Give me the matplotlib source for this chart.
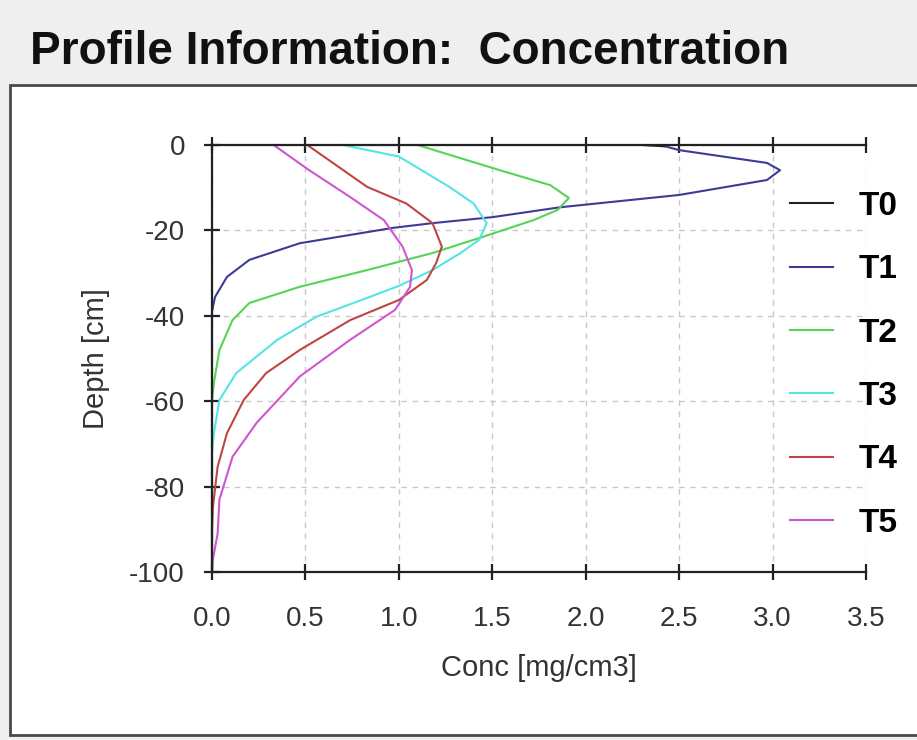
import matplotlib
matplotlib.use('Agg')
import matplotlib.pyplot as plt
from matplotlib.patches import Rectangle
from matplotlib.lines import Line2D

# profile data: concentration [mg/cm3] vs depth [cm]
labels = ['T0', 'T1', 'T2', 'T3', 'T4', 'T5']
colors = ['#202020', '#3c3c98', '#55d455', '#55e4e4', '#c04545', '#d055d0']

t0_depth = [0, -0.3]
t0_conc = [2.3, 2.42]

t1_depth = [0, -1.2, -4.2, -5.9, -8.2, -11.7, -13.6, -14.6, -16.9, -18.3, -19.4,
            -23, -26.9, -30.9, -35.6, -39, -100]
t1_conc = [2.4, 2.5, 2.97, 3.04, 2.97, 2.5, 2.08, 1.86, 1.5, 1.18, 0.97,
           0.47, 0.2, 0.08, 0.016, 0.0, 0.0]

t2_depth = [0, -5.9, -9.4, -12.4, -15.2, -17.6, -21.5, -25.3, -29.3, -33.2, -37,
            -41, -48, -55.7, -60, -100]
t2_conc = [1.1, 1.54, 1.81, 1.91, 1.85, 1.72, 1.45, 1.18, 0.83, 0.47, 0.2,
           0.11, 0.04, 0.01, 0.0, 0.0]

t3_depth = [0, -2.7, -9.8, -13.7, -18.3, -22.2, -25.3, -29.3, -33, -36.3, -40.2,
            -45.6, -53.4, -59.7, -67.5, -72, -100]
t3_conc = [0.7, 1.0, 1.27, 1.4, 1.47, 1.43, 1.33, 1.18, 1.0, 0.8, 0.56,
           0.35, 0.13, 0.04, 0.01, 0.0, 0.0]

t4_depth = [0, -9.8, -13.7, -18.3, -23.8, -27.6, -31.6, -36.3, -41, -48, -53.4,
            -59.7, -67.5, -75.4, -84.8, -90, -100]
t4_conc = [0.51, 0.83, 1.04, 1.18, 1.23, 1.2, 1.15, 1.0, 0.74, 0.47, 0.29,
           0.17, 0.08, 0.03, 0.005, 0.0, 0.0]

t5_depth = [0, -5.9, -12.2, -17.6, -23.8, -29.3, -33.2, -38.6, -45.6, -54.2, -65,
            -73, -83, -91, -97, -100]
t5_conc = [0.33, 0.52, 0.74, 0.92, 1.02, 1.07, 1.06, 0.98, 0.74, 0.47, 0.24,
           0.11, 0.04, 0.03, 0.005, 0.0]

depths = [t0_depth, t1_depth, t2_depth, t3_depth, t4_depth, t5_depth]
concs = [t0_conc, t1_conc, t2_conc, t3_conc, t4_conc, t5_conc]

xticks = [0.0, 0.5, 1.0, 1.5, 2.0, 2.5, 3.0, 3.5]
yticks = [0, -20, -40, -60, -80, -100]

plt.rcParams['font.family'] = ['Liberation Sans', 'DejaVu Sans']
plt.rcParams['axes.unicode_minus'] = False

fig = plt.figure(figsize=(9.17, 7.4), dpi=100, facecolor='#efefef')

# white panel with dark border below the header
panel = Rectangle((10 / 917, 5 / 740), 1.0, (740 - 85 - 5) / 740,
                  transform=fig.transFigure, facecolor='white',
                  edgecolor='#4a4a4a', linewidth=2, zorder=-5)
fig.patches.append(panel)

fig.text(30 / 917, 1 - 52 / 740, 'Profile Information:  Concentration',
         fontsize=33, fontweight='bold', color='#111111', va='center', ha='left')

ax = fig.add_axes([212 / 917, 1 - 572 / 740, 654 / 917, 427 / 740], zorder=2)
ax.set_facecolor('none')

for i, (d, c, col) in enumerate(zip(depths, concs, colors)):
    ax.plot(c, d, color=col, linewidth=1.5, clip_on=False,
            zorder=3 if i == 0 else 2)

ax.set_xlim(0, 3.5)
ax.set_ylim(-100, 0)
ax.set_xticks(xticks)
ax.set_xticklabels([f'{v:.1f}' for v in xticks])
ax.set_yticks(yticks)

ax.grid(True, linestyle=(0, (4, 4)), color='#c8c8c8', linewidth=1)
ax.spines['right'].set_visible(False)
for s in ['left', 'top', 'bottom']:
    ax.spines[s].set_linewidth(1.6)
    ax.spines[s].set_color('#222222')

ax.tick_params(direction='inout', length=11, width=1.6, top=True, color='#222222',
               labelsize=20, labelcolor='#333333')
ax.tick_params(axis='x', pad=19)
ax.tick_params(axis='y', pad=14)

ax.set_xlabel('Conc [mg/cm3]', fontsize=21, color='#333333', labelpad=16)
ax.set_ylabel('Depth [cm]', fontsize=21, color='#333333', labelpad=14)

handles = [Line2D([0], [0], color=col, linewidth=1.5) for col in colors]
leg = ax.legend(handles, labels, loc='upper left',
                bbox_to_anchor=(790 / 917, 1 - 191 / 740),
                bbox_transform=fig.transFigure, borderpad=0, borderaxespad=0,
                frameon=False, handlelength=1.3, handletextpad=0.75,
                labelspacing=0.97, prop={'weight': 'bold', 'size': 24})

fig.savefig('out.png', dpi=100, facecolor=fig.get_facecolor())
